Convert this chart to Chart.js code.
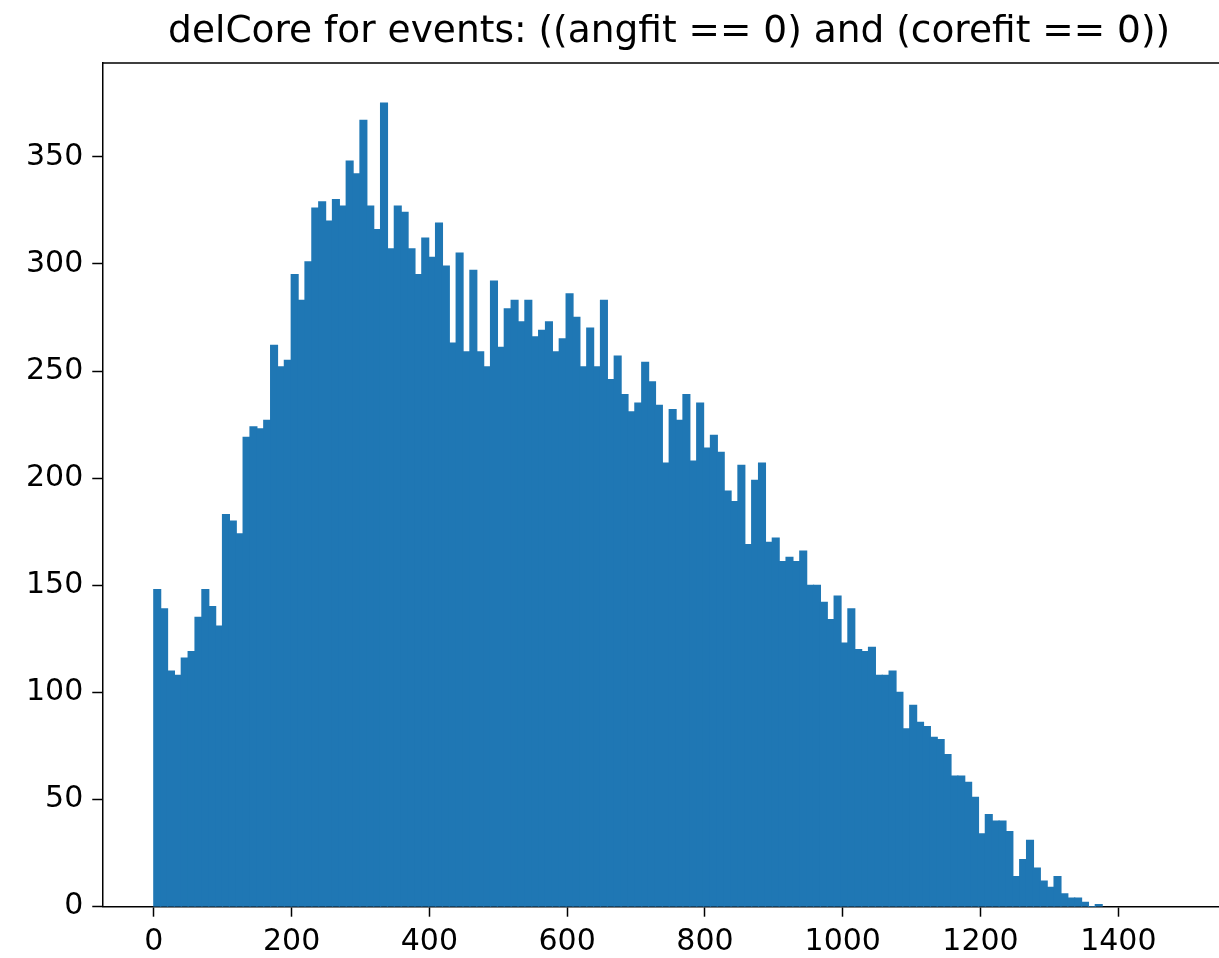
<!DOCTYPE html>
<html>
<head>
<meta charset="utf-8">
<title>delCore histogram</title>
<script src="https://cdn.jsdelivr.net/npm/chart.js@4"></script>
<style>
  html, body { margin: 0; padding: 0; background: #fff; overflow: hidden; }
  #wrap { width: 1334px; height: 958px; }
</style>
</head>
<body>
<div id="wrap"><canvas id="myChart"></canvas></div>
<script>
// histogram counts, one per bin
const counts = [
  148, 139, 110, 108, 116, 119, 135, 148, 140, 131,
  183, 180, 174, 219, 224, 223, 227, 262, 252, 255,
  295, 283, 301, 326, 329, 320, 330, 327, 348, 342,
  367, 327, 316, 375, 307, 327, 324, 307, 295, 312,
  303, 319, 299, 263, 305, 259, 297, 259, 252, 292,
  261, 279, 283, 273, 283, 266, 269, 273, 259, 265,
  286, 275, 252, 270, 252, 283, 246, 257, 239, 231,
  235, 254, 245, 234, 207, 232, 227, 239, 208, 235,
  214, 220, 212, 194, 189, 206, 169, 199, 207, 170,
  172, 161, 163, 161, 166, 150, 150, 142, 134, 145,
  123, 139, 120, 119, 121, 108, 108, 110, 100, 83,
  94, 86, 84, 79, 78, 71, 61, 61, 58, 51,
  34, 43, 40, 40, 35, 14, 22, 31, 18, 12,
  9, 14, 6, 4, 4, 2, 0, 1
];
const binWidth = 9.975;
const xTicks = [0, 200, 400, 600, 800, 1000, 1200, 1400];
const yTicks = [0, 50, 100, 150, 200, 250, 300, 350];
const chartTitle = 'delCore for events: ((angfit == 0) and (corefit == 0))';

const points = counts.map((c, i) => ({ x: (i + 0.5) * binWidth, y: c }));

const font = { family: 'DejaVu Sans', size: 30 };

// top and right spines
const frame = {
  id: 'frame',
  afterDraw(chart) {
    const { ctx, chartArea: a } = chart;
    ctx.save();
    ctx.strokeStyle = '#000';
    ctx.lineWidth = 1.5;
    ctx.beginPath();
    ctx.moveTo(a.left, a.top);
    ctx.lineTo(a.right, a.top);
    ctx.lineTo(a.right, a.bottom);
    ctx.stroke();
    ctx.restore();
  }
};

const ctx = document.getElementById('myChart');
new Chart(ctx, {
  type: 'bar',
  data: {
    datasets: [{
      label: 'delCore',
      data: points,
      backgroundColor: '#1f77b4',
      borderWidth: 0,
      barPercentage: 1,
      categoryPercentage: 1,
      inflateAmount: 0.6
    }]
  },
  options: {
    responsive: true,
    maintainAspectRatio: false,
    animation: false,
    layout: { padding: { left: 17, right: 98, top: 6, bottom: 0 } },
    plugins: {
      legend: { display: false },
      tooltip: { enabled: false },
      title: {
        display: true,
        fullSize: false,
        text: chartTitle,
        color: '#000',
        font: { family: 'DejaVu Sans', size: 37.5, weight: 'normal' },
        padding: { top: 4, bottom: 8 }
      }
    },
    scales: {
      x: {
        type: 'linear',
        min: -74.8,
        max: 1570.8,
        offset: false,
        afterBuildTicks: (scale) => { scale.ticks = xTicks.map(v => ({ value: v })); },
        afterFit: (scale) => { scale.height = 51.3; },
        ticks: { color: '#000', font: font, padding: 8, maxRotation: 0, callback: (v) => String(v) },
        grid: { offset: false, drawOnChartArea: false, drawTicks: true, tickLength: 10, tickWidth: 1.5, tickColor: '#000', color: '#000' },
        border: { display: true, color: '#000', width: 1.5 }
      },
      y: {
        min: 0,
        max: 393.75,
        afterBuildTicks: (scale) => { scale.ticks = yTicks.map(v => ({ value: v })); },
        ticks: { color: '#000', font: font, padding: 9, callback: (v) => String(v) },
        grid: { drawOnChartArea: false, drawTicks: true, tickLength: 10, tickWidth: 1.5, tickColor: '#000', color: '#000' },
        border: { display: true, color: '#000', width: 1.5 }
      }
    }
  },
  plugins: [frame]
});
</script>
</body>
</html>
